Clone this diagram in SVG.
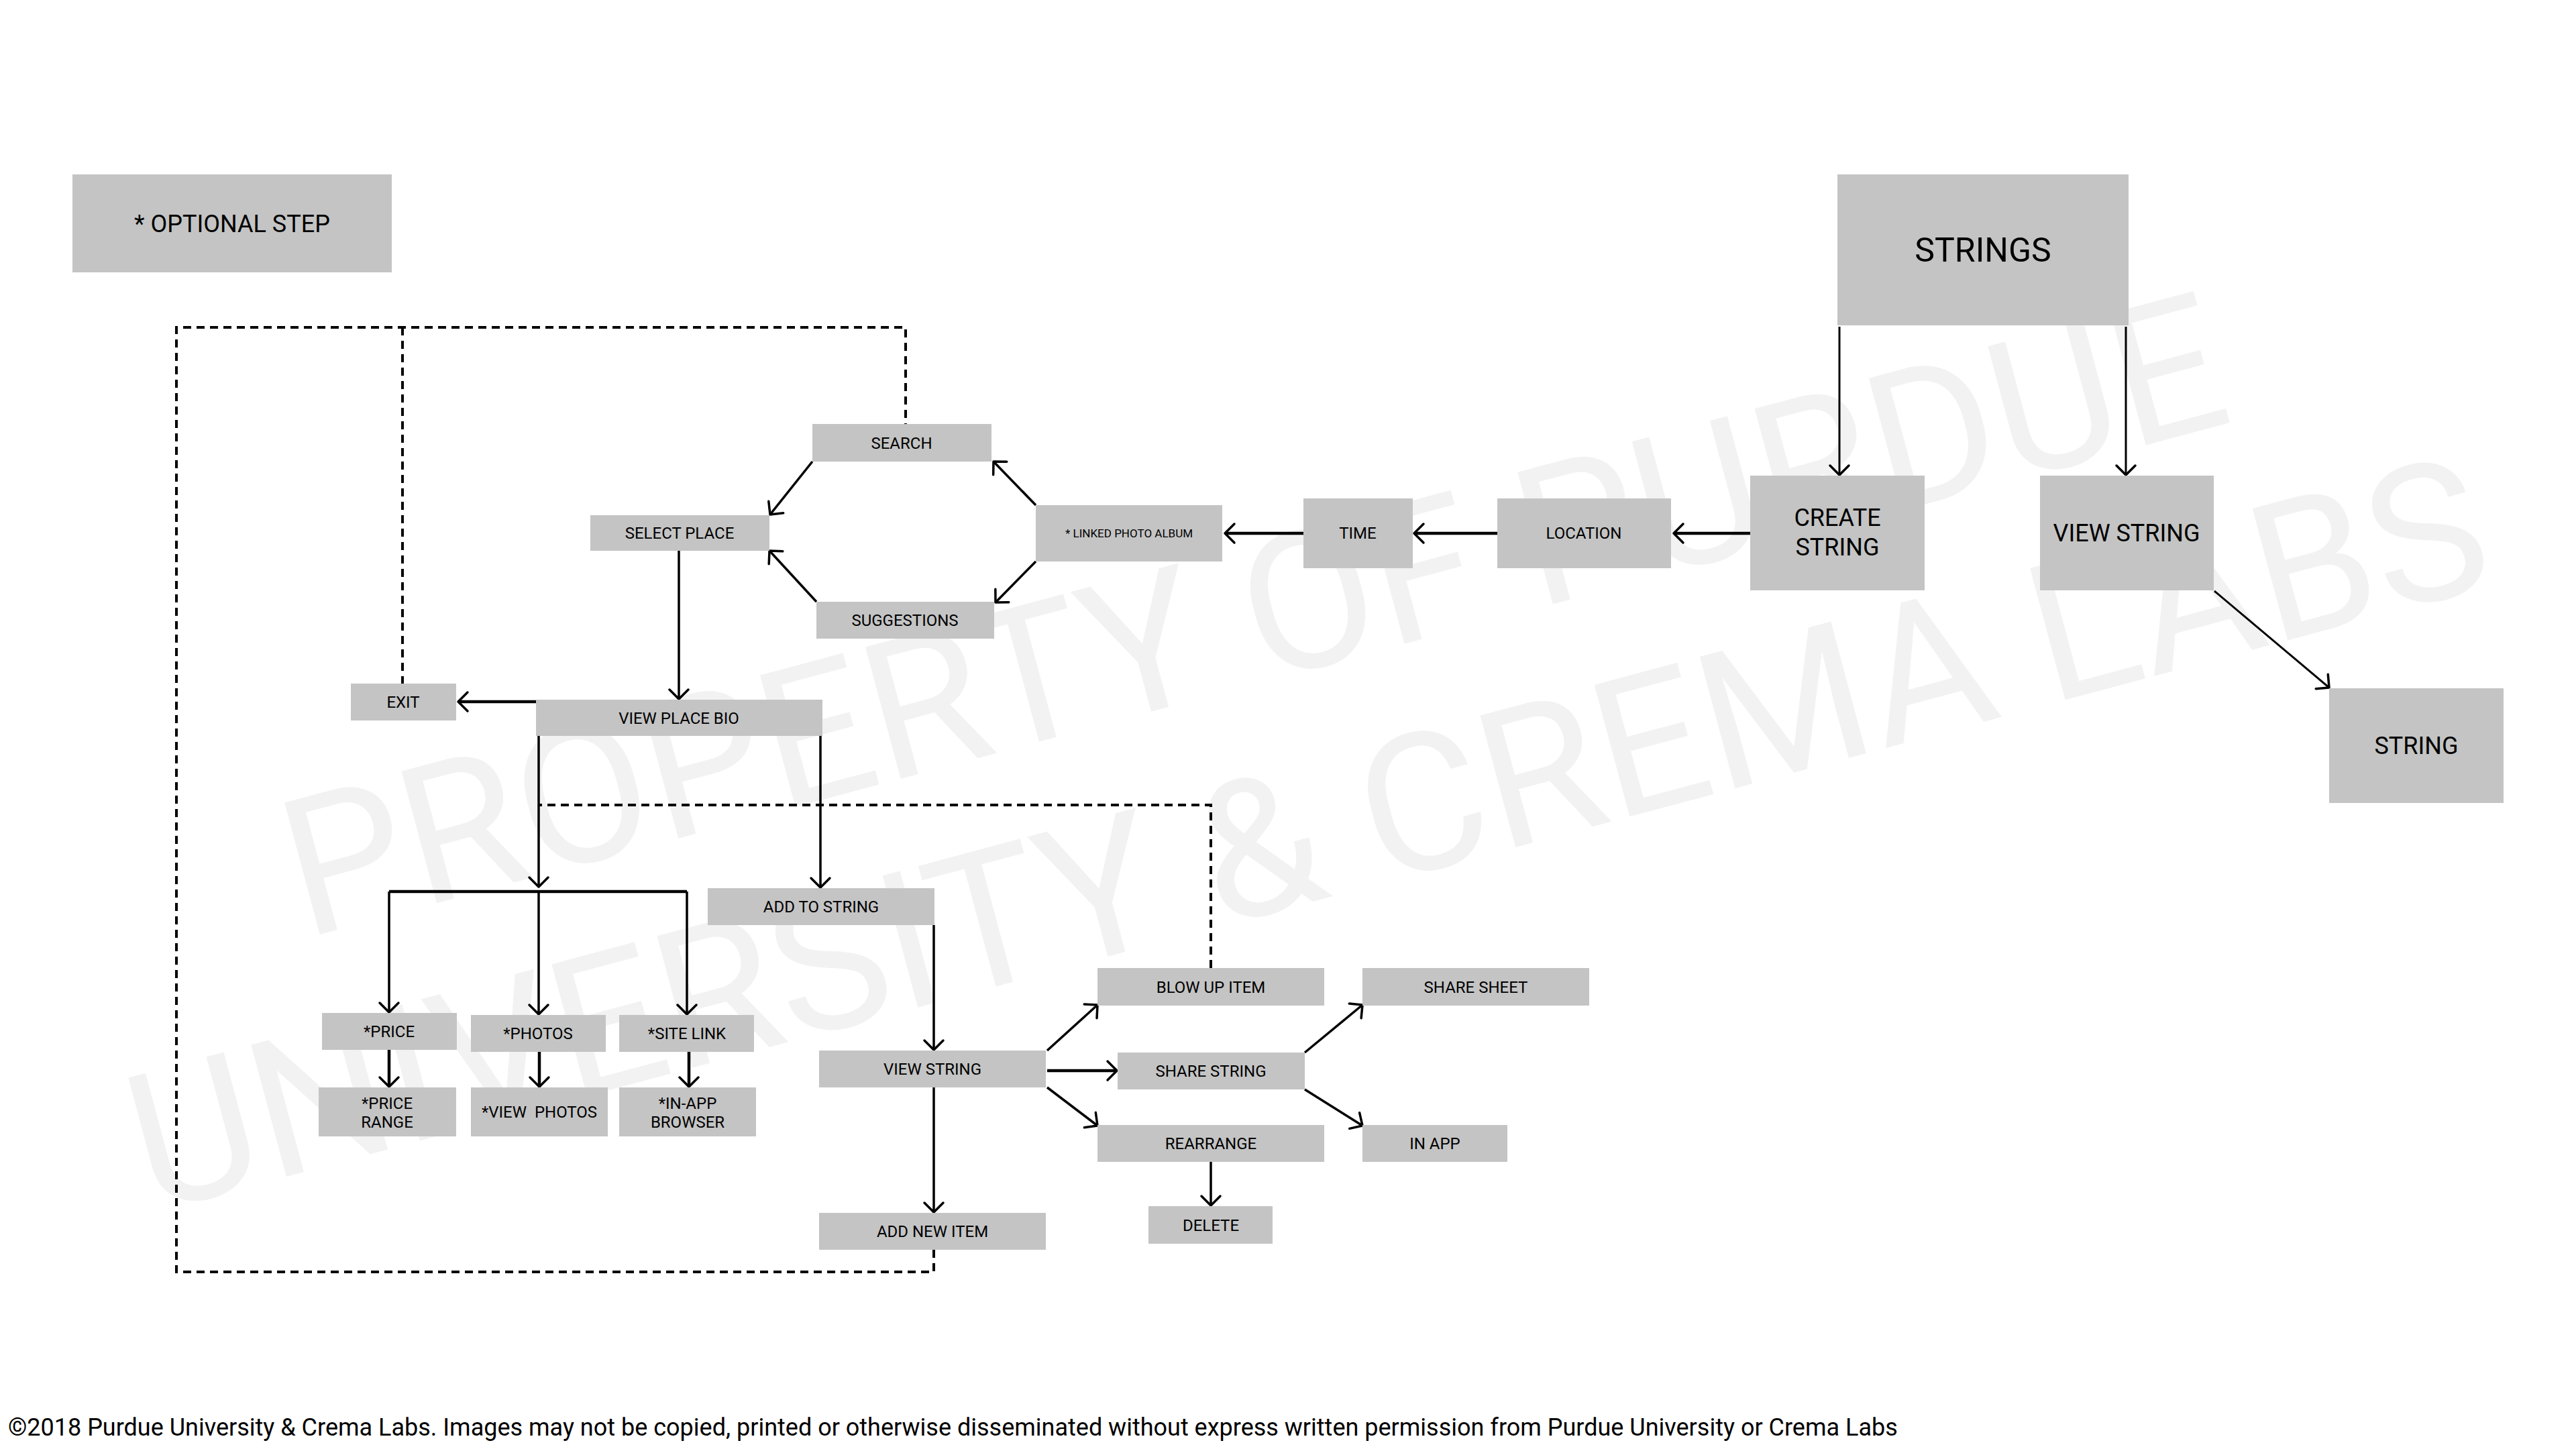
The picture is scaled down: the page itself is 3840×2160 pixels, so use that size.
<svg xmlns="http://www.w3.org/2000/svg" width="3840" height="2160" viewBox="0 0 3840 2160">
<defs>
<style>
.box{fill:#c4c4c4}
.t{font-family:Roboto,"Liberation Sans",Arial,sans-serif;fill:#000;text-anchor:middle}
.s{font-size:24px}
.m{font-size:36px}
.wm{font-family:Roboto,"Liberation Sans",Arial,sans-serif;font-size:286px;fill:#f2f2f2}
.ln{fill:none;stroke:#000;stroke-width:3.5}
.thick{stroke-width:4.5}
.thin{stroke-width:3}
.dash{fill:none;stroke:#000;stroke-width:4;stroke-dasharray:12 8}
</style>
<marker id="ah" viewBox="-20 -20 40 40" markerWidth="40" markerHeight="40" refX="0" refY="0" orient="auto" markerUnits="userSpaceOnUse" overflow="visible">
<path d="M-14,-14 L0,0 L-14,14" fill="none" stroke="#000" stroke-width="3.5" stroke-linecap="round" stroke-linejoin="round"/>
</marker>
</defs>
<rect width="3840" height="2160" fill="#fff"/>
<g id="watermark">
<text class="wm" x="454" y="1399" transform="rotate(-15 454 1399)">PROPERTY OF PURDUE</text>
<text class="wm" x="225" y="1808" transform="rotate(-15 225 1808)">UNIVERSITY &amp; CREMA LABS</text>
</g>
<g id="connectors">
<path class="dash" d="M1392,1863 V1896 H263 V488 H1350 V632"/>
<path class="dash" d="M600,488 V1019"/>
<path class="dash" d="M1805,1443 V1200 H803"/>
<path class="ln thin" d="M2742,487 V708" marker-end="url(#ah)"/>
<path class="ln thin" d="M3169,487 V708" marker-end="url(#ah)"/>
<path class="ln thin" d="M3301,881 L3472,1025" marker-end="url(#ah)"/>
<path class="ln thick" d="M2609,795 H2495" marker-end="url(#ah)"/>
<path class="ln thick" d="M2232,795 H2108" marker-end="url(#ah)"/>
<path class="ln thick" d="M1943,795 H1826" marker-end="url(#ah)"/>
<path class="ln" d="M1544,753 L1481,688" marker-end="url(#ah)"/>
<path class="ln" d="M1544,837 L1484,898" marker-end="url(#ah)"/>
<path class="ln" d="M1211,688 L1148,767" marker-end="url(#ah)"/>
<path class="ln" d="M1217,897 L1147,821" marker-end="url(#ah)"/>
<path class="ln" d="M1012,821 V1042" marker-end="url(#ah)"/>
<path class="ln thick" d="M799,1046 H683" marker-end="url(#ah)"/>
<path class="ln" d="M803,1097 V1322" marker-end="url(#ah)"/>
<path class="ln thick" d="M580,1329 H1024"/>
<path class="ln" d="M580,1329 V1509" marker-end="url(#ah)"/>
<path class="ln" d="M803,1329 V1512" marker-end="url(#ah)"/>
<path class="ln" d="M1024,1329 V1512" marker-end="url(#ah)"/>
<path class="ln thick" d="M580,1565 V1620" marker-end="url(#ah)"/>
<path class="ln thick" d="M804,1568 V1620" marker-end="url(#ah)"/>
<path class="ln thick" d="M1027,1568 V1620" marker-end="url(#ah)"/>
<path class="ln" d="M1223,1097 V1323" marker-end="url(#ah)"/>
<path class="ln" d="M1392,1379 V1565" marker-end="url(#ah)"/>
<path class="ln" d="M1392,1621 V1807" marker-end="url(#ah)"/>
<path class="ln" d="M1561,1566 L1636,1498" marker-end="url(#ah)"/>
<path class="ln thick" d="M1561,1596 H1665" marker-end="url(#ah)"/>
<path class="ln" d="M1561,1621 L1636,1678" marker-end="url(#ah)"/>
<path class="ln" d="M1945,1569 L2031,1498" marker-end="url(#ah)"/>
<path class="ln" d="M1945,1624 L2031,1678" marker-end="url(#ah)"/>
<path class="ln" d="M1805,1732 V1797" marker-end="url(#ah)"/>
</g>
<g id="optional-step"><rect class="box" x="108" y="260" width="476" height="146"/><text class="t m" x="346" y="346">* OPTIONAL STEP</text></g>
<g id="strings"><rect class="box" x="2739" y="260" width="434" height="225"/><text class="t" style="font-size:50px" x="2956" y="390">STRINGS</text></g>
<g id="create-string"><rect class="box" x="2609" y="709" width="260" height="171"/><text class="t m" x="2739" y="784">CREATE</text><text class="t m" x="2739" y="828">STRING</text></g>
<g id="view-string-top"><rect class="box" x="3041" y="709" width="259" height="171"/><text class="t m" x="3170" y="807">VIEW STRING</text></g>
<g id="string"><rect class="box" x="3472" y="1026" width="260" height="171"/><text class="t m" x="3602" y="1124">STRING</text></g>
<g id="location"><rect class="box" x="2232" y="743" width="259" height="104"/><text class="t s" x="2361" y="803">LOCATION</text></g>
<g id="time"><rect class="box" x="1943" y="743" width="163" height="104"/><text class="t s" x="2024" y="803">TIME</text></g>
<g id="linked-photo-album"><rect class="box" x="1544" y="753" width="278" height="84"/><text class="t" style="font-size:17px" x="1683" y="801">* LINKED PHOTO ALBUM</text></g>
<g id="search"><rect class="box" x="1211" y="632" width="267" height="56"/><text class="t s" x="1344" y="669">SEARCH</text></g>
<g id="suggestions"><rect class="box" x="1217" y="897" width="265" height="55"/><text class="t s" x="1349" y="933">SUGGESTIONS</text></g>
<g id="select-place"><rect class="box" x="880" y="768" width="267" height="53"/><text class="t s" x="1013" y="803">SELECT PLACE</text></g>
<g id="exit"><rect class="box" x="523" y="1019" width="157" height="55"/><text class="t s" x="601" y="1055">EXIT</text></g>
<g id="view-place-bio"><rect class="box" x="799" y="1043" width="427" height="54"/><text class="t s" x="1012" y="1079">VIEW PLACE BIO</text></g>
<g id="add-to-string"><rect class="box" x="1055" y="1324" width="338" height="55"/><text class="t s" x="1224" y="1360">ADD TO STRING</text></g>
<g id="price"><rect class="box" x="480" y="1510" width="201" height="55"/><text class="t s" x="580" y="1546">*PRICE</text></g>
<g id="photos"><rect class="box" x="702" y="1513" width="201" height="55"/><text class="t s" x="802" y="1549">*PHOTOS</text></g>
<g id="site-link"><rect class="box" x="923" y="1513" width="201" height="55"/><text class="t s" x="1024" y="1549">*SITE LINK</text></g>
<g id="price-range"><rect class="box" x="475" y="1621" width="205" height="73"/><text class="t s" x="577" y="1653">*PRICE</text><text class="t s" x="577" y="1681">RANGE</text></g>
<g id="view-photos"><rect class="box" x="702" y="1621" width="204" height="73"/><text class="t s" x="804" y="1666" xml:space="preserve">*VIEW  PHOTOS</text></g>
<g id="in-app-browser"><rect class="box" x="923" y="1621" width="204" height="73"/><text class="t s" x="1025" y="1653">*IN-APP</text><text class="t s" x="1025" y="1681">BROWSER</text></g>
<g id="view-string"><rect class="box" x="1221" y="1566" width="338" height="55"/><text class="t s" x="1390" y="1602">VIEW STRING</text></g>
<g id="add-new-item"><rect class="box" x="1221" y="1808" width="338" height="55"/><text class="t s" x="1390" y="1844">ADD NEW ITEM</text></g>
<g id="blow-up-item"><rect class="box" x="1636" y="1443" width="338" height="56"/><text class="t s" x="1805" y="1480">BLOW UP ITEM</text></g>
<g id="share-sheet"><rect class="box" x="2031" y="1443" width="338" height="56"/><text class="t s" x="2200" y="1480">SHARE SHEET</text></g>
<g id="share-string"><rect class="box" x="1666" y="1569" width="279" height="55"/><text class="t s" x="1805" y="1605">SHARE STRING</text></g>
<g id="rearrange"><rect class="box" x="1636" y="1677" width="338" height="55"/><text class="t s" x="1805" y="1713">REARRANGE</text></g>
<g id="in-app"><rect class="box" x="2031" y="1677" width="216" height="55"/><text class="t s" x="2139" y="1713">IN APP</text></g>
<g id="delete"><rect class="box" x="1712" y="1798" width="185" height="56"/><text class="t s" x="1805" y="1835">DELETE</text></g>
<text id="footer" font-family="Roboto,'Liberation Sans',Arial,sans-serif" font-size="36" x="12" y="2140">©2018 Purdue University &amp; Crema Labs. Images may not be copied, printed or otherwise disseminated without express written permission from Purdue University or Crema Labs</text>
</svg>
